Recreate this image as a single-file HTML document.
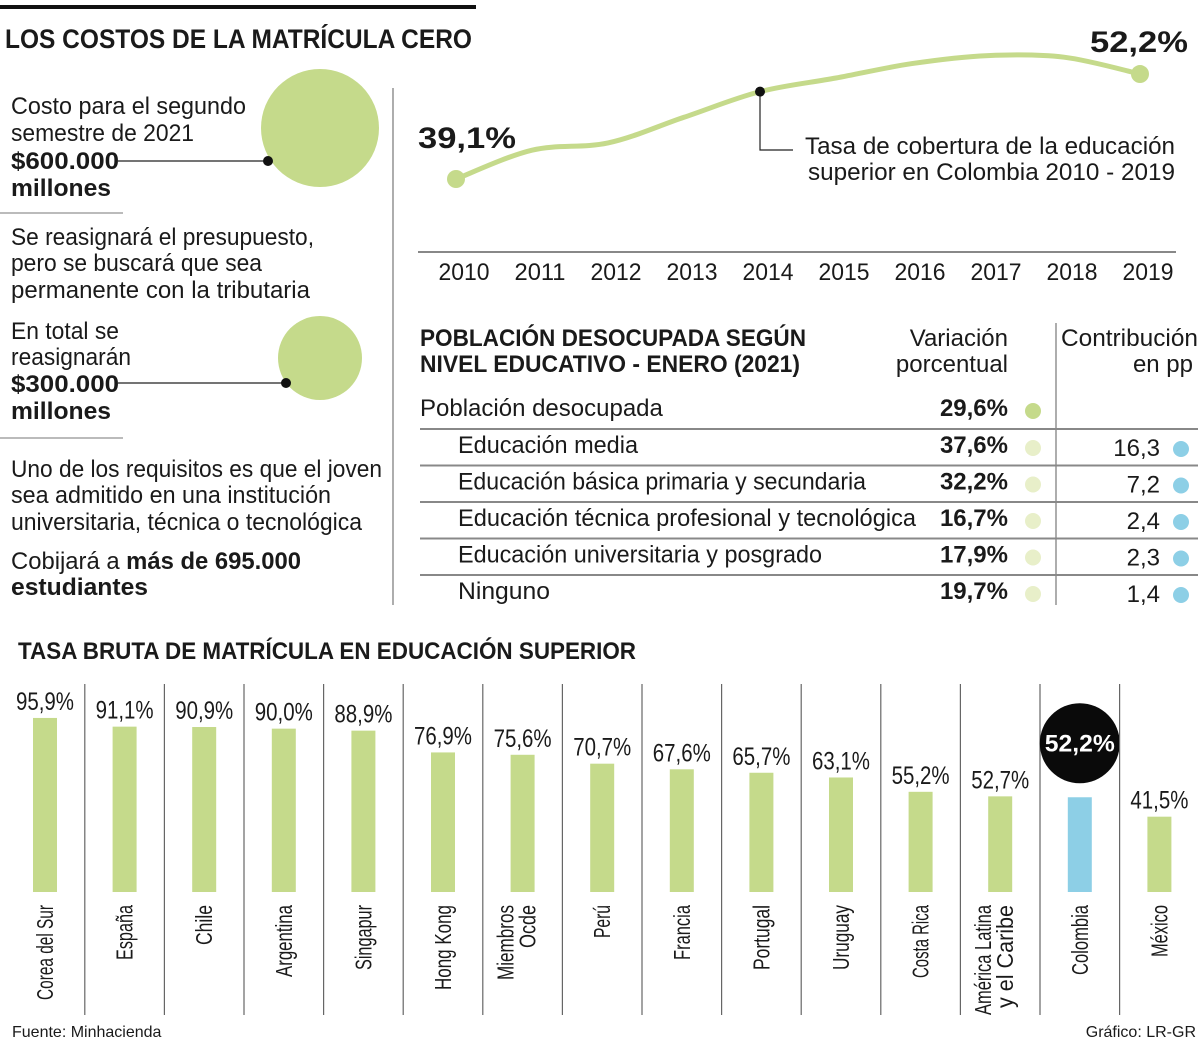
<!DOCTYPE html>
<html><head><meta charset="utf-8"><style>
body{margin:0;background:#fff}
svg text{font-family:"Liberation Sans Narrow","Liberation Sans",sans-serif;fill:#1a1a1a}
.b{font-weight:bold}
</style></head><body>
<svg id="s" width="1200" height="1042" xmlns="http://www.w3.org/2000/svg">
<rect x="0" y="5" width="476" height="4" fill="#111"/>
<text x="5" y="48" font-size="27" class="b" textLength="467" lengthAdjust="spacingAndGlyphs">LOS COSTOS DE LA MATRÍCULA CERO</text>

<g font-size="24">
<circle cx="320" cy="128" r="59" fill="#c5da8b"/>
<line x1="118" y1="161" x2="268" y2="161" stroke="#222" stroke-width="1.2"/>
<circle cx="268" cy="161" r="5" fill="#111"/>
<text x="11" y="114" textLength="235" lengthAdjust="spacingAndGlyphs">Costo para el segundo</text>
<text x="11" y="141" textLength="183" lengthAdjust="spacingAndGlyphs">semestre de 2021</text>
<text x="11" y="169" class="b" textLength="108" lengthAdjust="spacingAndGlyphs">$600.000</text>
<text x="11" y="196" class="b" textLength="100" lengthAdjust="spacingAndGlyphs">millones</text>
<line x1="0" y1="213" x2="123" y2="213" stroke="#777" stroke-width="1"/>
<text x="11" y="245" textLength="303" lengthAdjust="spacingAndGlyphs">Se reasignará el presupuesto,</text>
<text x="11" y="271" textLength="251" lengthAdjust="spacingAndGlyphs">pero se buscará que sea</text>
<text x="11" y="298" textLength="299" lengthAdjust="spacingAndGlyphs">permanente con la tributaria</text>
<circle cx="320" cy="358" r="42" fill="#c5da8b"/>
<line x1="118" y1="383" x2="286" y2="383" stroke="#222" stroke-width="1.2"/>
<circle cx="286" cy="383" r="5" fill="#111"/>
<text x="11" y="339" textLength="108" lengthAdjust="spacingAndGlyphs">En total se</text>
<text x="11" y="365" textLength="120" lengthAdjust="spacingAndGlyphs">reasignarán</text>
<text x="11" y="392" class="b" textLength="108" lengthAdjust="spacingAndGlyphs">$300.000</text>
<text x="11" y="419" class="b" textLength="100" lengthAdjust="spacingAndGlyphs">millones</text>
<line x1="0" y1="438" x2="123" y2="438" stroke="#777" stroke-width="1"/>
<text x="11" y="477" textLength="371" lengthAdjust="spacingAndGlyphs">Uno de los requisitos es que el joven</text>
<text x="11" y="503" textLength="320" lengthAdjust="spacingAndGlyphs">sea admitido en una institución</text>
<text x="11" y="530" textLength="351" lengthAdjust="spacingAndGlyphs">universitaria, técnica o tecnológica</text>
<text x="11" y="569" textLength="290" lengthAdjust="spacingAndGlyphs">Cobijará a <tspan class="b">más de 695.000</tspan></text>
<text x="11" y="595" class="b" textLength="137" lengthAdjust="spacingAndGlyphs">estudiantes</text>
</g>
<line x1="393" y1="88" x2="393" y2="605" stroke="#777" stroke-width="1.2"/>

<g id="line"></g>

<g font-size="24">
<text x="420" y="346" class="b" textLength="386" lengthAdjust="spacingAndGlyphs">POBLACIÓN DESOCUPADA SEGÚN</text>
<text x="420" y="372" class="b" textLength="380" lengthAdjust="spacingAndGlyphs">NIVEL EDUCATIVO - ENERO (2021)</text>
<text x="1008" y="346" text-anchor="end">Variación</text>
<text x="1008" y="372" text-anchor="end">porcentual</text>
<text x="1198" y="346" text-anchor="end" textLength="137" lengthAdjust="spacingAndGlyphs">Contribución</text>
<text x="1193" y="372" text-anchor="end">en pp</text>
<line x1="1056" y1="323" x2="1056" y2="605" stroke="#777" stroke-width="1.2"/>
<g id="rows"></g>
</g>

<g id="bars"></g>
<text x="18" y="659" font-size="24" class="b" textLength="618" lengthAdjust="spacingAndGlyphs">TASA BRUTA DE MATRÍCULA EN EDUCACIÓN SUPERIOR</text>
<text x="12" y="1037" font-size="16">Fuente: Minhacienda</text>
<text x="1196" y="1037" font-size="16" text-anchor="end">Gráfico: LR-GR</text>
</svg>
<script>
const NS="http://www.w3.org/2000/svg";
function mk(p,t,a,txt){const e=document.createElementNS(NS,t);for(const k in a)e.setAttribute(k,a[k]);if(txt!=null)e.textContent=txt;p.appendChild(e);return e;}

// line chart data
const years=[2010,2011,2012,2013,2014,2015,2016,2017,2018,2019];
const coverage=[39.1,42.7,43.6,46.8,50.0,51.7,53.5,54.5,54.3,52.2];
const lx=i=>456+i*76, ly=v=>179-(v-39.1)*8.015;
const L=document.getElementById('line');
const ax=mk(L,'line',{x1:418,y1:252,x2:1176,y2:252,stroke:'#888','stroke-width':2});


years.forEach((y,i)=>{const t=mk(L,'text',{x:lx(i)+8,y:280,'font-size':24,'text-anchor':'middle',textLength:51,lengthAdjust:'spacingAndGlyphs'},y);

});
const P=coverage.map((v,i)=>[lx(i),ly(v)]);
let d='M'+P[0];
for(let i=0;i<P.length-1;i++){const p0=P[i-1]||P[i],p1=P[i],p2=P[i+1],p3=P[i+2]||p2;
d+=` C${p1[0]+(p2[0]-p0[0])/6},${p1[1]+(p2[1]-p0[1])/6} ${p2[0]-(p3[0]-p1[0])/6},${p2[1]-(p3[1]-p1[1])/6} ${p2[0]},${p2[1]}`;}
const path=mk(L,'path',{d:d,fill:'none',stroke:'#c5da8b','stroke-width':5,'stroke-linecap':'round'});


[0,9].forEach(i=>{const c=mk(L,'circle',{cx:P[i][0],cy:P[i][1],r:9,fill:'#c5da8b'});

});
mk(L,'polyline',{points:`${P[4][0]},${P[4][1]} ${P[4][0]},150 793,150`,fill:'none',stroke:'#222','stroke-width':1.2});
mk(L,'circle',{cx:P[4][0],cy:P[4][1],r:5,fill:'#111'});
const f=v=>v.toFixed(1).replace('.',',')+'%';
const t1=mk(L,'text',{x:418,y:148,'font-size':30,class:'b',textLength:98,lengthAdjust:'spacingAndGlyphs'},f(coverage[0]));


const t2=mk(L,'text',{x:1188,y:52,'font-size':30,class:'b','text-anchor':'end',textLength:98,lengthAdjust:'spacingAndGlyphs'},f(coverage[9]));


mk(L,'text',{x:805,y:154,'font-size':24,textLength:370,lengthAdjust:'spacingAndGlyphs'},'Tasa de cobertura de la educación');
mk(L,'text',{x:808,y:180,'font-size':24,textLength:367,lengthAdjust:'spacingAndGlyphs'},'superior en Colombia 2010 - 2019');

// table
const rowLabels=['Educación media','Educación básica primaria y secundaria','Educación técnica profesional y tecnológica','Educación universitaria y posgrado','Ninguno'];
const rowVar=['37,6%','32,2%','16,7%','17,9%','19,7%'];
const rowPP=['16,3','7,2','2,4','2,3','1,4'];
const R=document.getElementById('rows');
mk(R,'text',{x:420,y:416,'font-size':24},'Población desocupada');
mk(R,'text',{x:1008,y:416,'font-size':24,class:'b','text-anchor':'end'},'29,6%');
mk(R,'circle',{cx:1033,cy:411,r:8,fill:'#c5da8b'});
const widths=[180,408,458,364,92];
rowLabels.forEach((lab,i)=>{const y0=429+i*36.5;
mk(R,'line',{x1:420,y1:y0,x2:1198,y2:y0,stroke:'#888','stroke-width':2});
const t=mk(R,'text',{x:458,y:y0+24,'font-size':24,textLength:widths[i],lengthAdjust:'spacingAndGlyphs'},lab);


mk(R,'text',{x:1008,y:y0+24,'font-size':24,class:'b','text-anchor':'end'},rowVar[i]);
mk(R,'circle',{cx:1033,cy:y0+19,r:8,fill:'#e8efc9'});
mk(R,'text',{x:1160,y:y0+27,'font-size':24,'text-anchor':'end'},rowPP[i]);
mk(R,'circle',{cx:1181,cy:y0+20,r:8,fill:'#8dcfe6'});});

// bar chart
const countries=[['Corea del Sur'],['España'],['Chile'],['Argentina'],['Singapur'],['Hong Kong'],['Miembros','Ocde'],['Perú'],['Francia'],['Portugal'],['Uruguay'],['Costa Rica'],['América Latina','y el Caribe'],['Colombia'],['México']];
const labelLen=[[95],[55],[40],[72],[65],[85],[75,43],[33],[55],[65],[65],[73],[110,103],[70],[52]];
const rates=[95.9,91.1,90.9,90.0,88.9,76.9,75.6,70.7,67.6,65.7,63.1,55.2,52.7,52.2,41.5];
const hiIndex=13;
const B=document.getElementById('bars');
const bx=i=>45+i*79.6, by=v=>892-v*1.815;
rates.forEach((v,i)=>{
 if(i>0){mk(B,'line',{x1:bx(i)-39.8,y1:684,x2:bx(i)-39.8,y2:1015,stroke:'#666','stroke-width':1.2});}
 const r=mk(B,'rect',{x:bx(i)-12,y:by(v),width:24,height:892-by(v),fill:i===hiIndex?'#8dcfe6':'#c5da8b'});
 
 
 if(i===hiIndex){mk(B,'circle',{cx:bx(i),cy:by(v)-54,r:40,fill:'#0a0a0a'});
  const t=mk(B,'text',{x:bx(i),y:by(v)-46,'font-size':24,class:'b','text-anchor':'middle',fill:'#fff',style:'fill:#fff',textLength:70,lengthAdjust:'spacingAndGlyphs'},f(v));
  
  
 } else {
  const t=mk(B,'text',{x:bx(i),y:by(v)-8,'font-size':25,'text-anchor':'middle',textLength:58,lengthAdjust:'spacingAndGlyphs'},f(v));
  
  }
 const lines=countries[i];
 lines.forEach((ln,j)=>{const xx=bx(i)+(lines.length>1?(j===0?-9:13):8);
  const t=mk(B,'text',{x:0,y:0,'font-size':23,'text-anchor':'end',textLength:labelLen[i][j],lengthAdjust:'spacingAndGlyphs',transform:`translate(${xx},905) rotate(-90)`},ln);
  
  });
});
</script>
</body></html>
